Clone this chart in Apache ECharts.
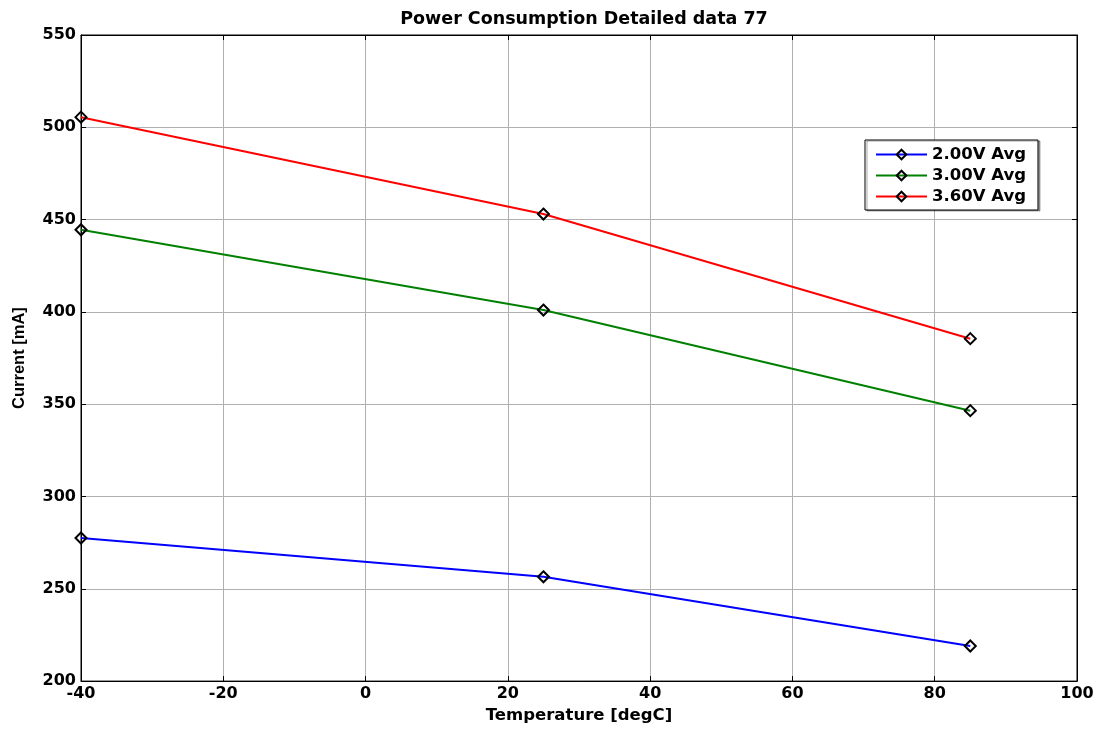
<!DOCTYPE html>
<html><head><meta charset="utf-8">
<script src="https://cdn.jsdelivr.net/npm/echarts@6/dist/echarts.min.js"></script>
<style>html,body{margin:0;padding:0;background:#fff}#c{width:1106px;height:729px}</style>
</head><body><div id="c"></div>
<script>
const temps = [-40, 25, 85];
const v200 = [277.5, 256.5, 219];
const v300 = [444.5, 401, 346.5];
const v360 = [505.5, 453, 385.5];
const seriesNames = ['2.00V Avg', '3.00V Avg', '3.60V Avg'];
const seriesColors = ['#0000ff', '#008000', '#ff0000'];
const seriesData = [v200, v300, v360];

const chart = echarts.init(document.getElementById('c'), null, {renderer: 'canvas'});
const wide = '"DejaVu Sans", sans-serif';
const narrow = '"Liberation Sans", Arial, sans-serif';
const tickStyle = {show: true, inside: true, length: 5, lineStyle: {color: '#000'}};
chart.setOption({
  animation: false,
  backgroundColor: '#fff',
  title: {
    text: 'Power Consumption Detailed data 77',
    left: 579, top: 5, textAlign: 'center',
    textStyle: {fontFamily: wide, fontSize: 17.5, fontWeight: 'bold', color: '#000'}
  },
  legend: {
    orient: 'vertical', left: 865, top: 140,
    backgroundColor: '#fff', borderColor: '#000', borderWidth: 1,
    shadowColor: 'rgba(0,0,0,0.35)', shadowOffsetX: 2, shadowOffsetY: 1, shadowBlur: 0,
    padding: [6, 12, 5, 10], itemGap: 4, itemWidth: 51, itemHeight: 12,
    textStyle: {fontFamily: wide, fontSize: 16.5, fontWeight: 'bold', color: '#000'},
    data: seriesNames
  },
  grid: {left: 81, right: 29, top: 35, bottom: 46, show: true, borderColor: '#000', borderWidth: 1},
  xAxis: [{
    type: 'value', min: -40, max: 100, interval: 20,
    name: 'Temperature [degC]', nameLocation: 'middle', nameGap: 23,
    nameTextStyle: {fontFamily: wide, fontSize: 16.5, fontWeight: 'bold', color: '#000'},
    axisLine: {show: true, onZero: false, lineStyle: {color: '#000', width: 1}},
    axisTick: tickStyle,
    axisLabel: {fontFamily: wide, fontSize: 16, fontWeight: 'bold', color: '#000', margin: 5},
    splitLine: {show: true, lineStyle: {color: '#b0b0b0', width: 1}}
  }, {
    type: 'value', min: -40, max: 100, interval: 20, position: 'top',
    axisLine: {show: true, onZero: false, lineStyle: {color: '#000'}},
    axisTick: tickStyle, axisLabel: {show: false}, splitLine: {show: false}
  }],
  yAxis: [{
    type: 'value', min: 200, max: 550, interval: 50,
    name: 'Current [mA]', nameLocation: 'middle', nameGap: 53, nameRotate: 90,
    nameTextStyle: {fontFamily: narrow, fontSize: 16.5, fontWeight: 'bold', color: '#000'},
    axisLine: {show: true, onZero: false, lineStyle: {color: '#000', width: 1}},
    axisTick: tickStyle,
    axisLabel: {fontFamily: wide, fontSize: 16, fontWeight: 'bold', color: '#000', margin: 5},
    splitLine: {show: true, lineStyle: {color: '#b0b0b0', width: 1}}
  }, {
    type: 'value', min: 200, max: 550, interval: 50, position: 'right',
    axisLine: {show: true, onZero: false, lineStyle: {color: '#000'}},
    axisTick: tickStyle, axisLabel: {show: false}, splitLine: {show: false}
  }],
  series: seriesNames.map((n, i) => ({
    name: n, type: 'line', xAxisIndex: 0, yAxisIndex: 0,
    data: temps.map((t, j) => [t, seriesData[i][j]]),
    lineStyle: {color: seriesColors[i], width: 2},
    color: seriesColors[i],
    symbol: 'diamond', symbolSize: 11, showAllSymbol: true,
    itemStyle: {color: 'rgba(255,255,255,0)', borderColor: '#000', borderWidth: 2}
  }))
});
</script></body></html>
